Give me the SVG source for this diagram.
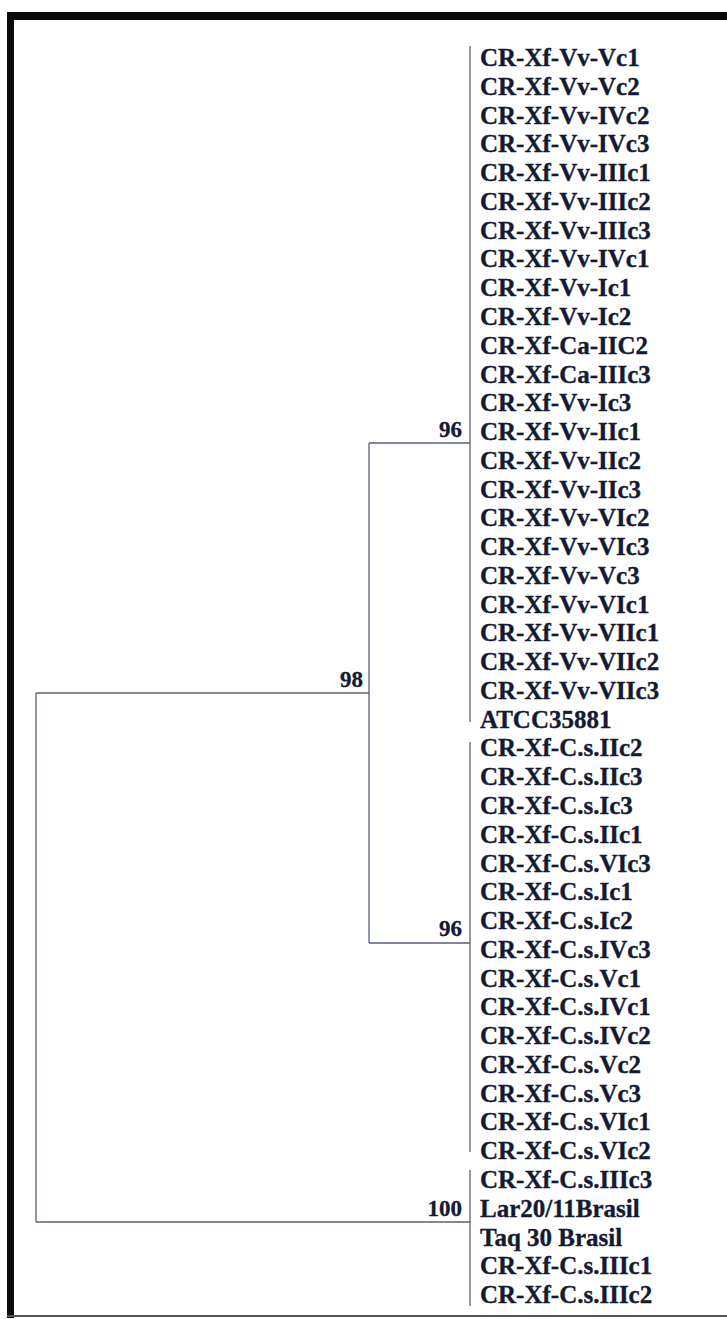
<svg xmlns="http://www.w3.org/2000/svg" width="727" height="1319" viewBox="0 0 727 1319">
<style>
.leaf{font-family:"Liberation Serif","Times New Roman",serif;font-weight:bold;font-size:25px;fill:#151a33;stroke:#151a33;stroke-width:0.35}
.bs{font-family:"Liberation Serif","Times New Roman",serif;font-weight:bold;font-size:23px;fill:#151a33;stroke:#151a33;stroke-width:0.3;text-anchor:end}
.br{stroke:#59607a;stroke-width:1.3;fill:none}
</style>
<rect width="727" height="1319" fill="#ffffff"/>
<g id="frame">
<rect x="7" y="12" width="720" height="8" fill="#0a0a0a"/>
<rect x="7" y="12" width="7" height="1306" fill="#0a0a0a"/>
<rect x="7" y="1315" width="720" height="2" fill="#555555"/>
</g>
<g id="connectors" class="br">
<path d="M36,693 V1222"/>
<path d="M36,693 H369"/>
<path d="M36,1222 H470"/>
<path d="M369,443 V943"/>
<path d="M369,443 H470"/>
<path d="M369,943 H470"/>
<path d="M470,46 V722"/>
<path d="M470,742 V1152"/>
<path d="M470,1170 V1306"/>
</g>
<g id="support">
<text class="bs" x="462" y="437">96</text>
<text class="bs" x="363" y="687">98</text>
<text class="bs" x="462" y="936">96</text>
<text class="bs" x="462" y="1216">100</text>
</g>
<g id="leaves">
<text class="leaf" x="480" y="66">CR-Xf-Vv-Vc1</text>
<text class="leaf" x="480" y="94.8">CR-Xf-Vv-Vc2</text>
<text class="leaf" x="480" y="123.5">CR-Xf-Vv-IVc2</text>
<text class="leaf" x="480" y="152.3">CR-Xf-Vv-IVc3</text>
<text class="leaf" x="480" y="181.1">CR-Xf-Vv-IIIc1</text>
<text class="leaf" x="480" y="209.8">CR-Xf-Vv-IIIc2</text>
<text class="leaf" x="480" y="238.6">CR-Xf-Vv-IIIc3</text>
<text class="leaf" x="480" y="267.4">CR-Xf-Vv-IVc1</text>
<text class="leaf" x="480" y="296.2">CR-Xf-Vv-Ic1</text>
<text class="leaf" x="480" y="324.9">CR-Xf-Vv-Ic2</text>
<text class="leaf" x="480" y="353.7">CR-Xf-Ca-IIC2</text>
<text class="leaf" x="480" y="382.5">CR-Xf-Ca-IIIc3</text>
<text class="leaf" x="480" y="411.2">CR-Xf-Vv-Ic3</text>
<text class="leaf" x="480" y="440">CR-Xf-Vv-IIc1</text>
<text class="leaf" x="480" y="468.8">CR-Xf-Vv-IIc2</text>
<text class="leaf" x="480" y="497.5">CR-Xf-Vv-IIc3</text>
<text class="leaf" x="480" y="526.3">CR-Xf-Vv-VIc2</text>
<text class="leaf" x="480" y="555.1">CR-Xf-Vv-VIc3</text>
<text class="leaf" x="480" y="583.8">CR-Xf-Vv-Vc3</text>
<text class="leaf" x="480" y="612.6">CR-Xf-Vv-VIc1</text>
<text class="leaf" x="480" y="641.4">CR-Xf-Vv-VIIc1</text>
<text class="leaf" x="480" y="670.1">CR-Xf-Vv-VIIc2</text>
<text class="leaf" x="480" y="698.9">CR-Xf-Vv-VIIc3</text>
<text class="leaf" x="480" y="727.7">ATCC35881</text>
<text class="leaf" x="480" y="756.4">CR-Xf-C.s.IIc2</text>
<text class="leaf" x="480" y="785.2">CR-Xf-C.s.IIc3</text>
<text class="leaf" x="480" y="814">CR-Xf-C.s.Ic3</text>
<text class="leaf" x="480" y="842.7">CR-Xf-C.s.IIc1</text>
<text class="leaf" x="480" y="871.5">CR-Xf-C.s.VIc3</text>
<text class="leaf" x="480" y="900.3">CR-Xf-C.s.Ic1</text>
<text class="leaf" x="480" y="929">CR-Xf-C.s.Ic2</text>
<text class="leaf" x="480" y="957.8">CR-Xf-C.s.IVc3</text>
<text class="leaf" x="480" y="986.6">CR-Xf-C.s.Vc1</text>
<text class="leaf" x="480" y="1015.3">CR-Xf-C.s.IVc1</text>
<text class="leaf" x="480" y="1044.1">CR-Xf-C.s.IVc2</text>
<text class="leaf" x="480" y="1072.9">CR-Xf-C.s.Vc2</text>
<text class="leaf" x="480" y="1101.6">CR-Xf-C.s.Vc3</text>
<text class="leaf" x="480" y="1130.4">CR-Xf-C.s.VIc1</text>
<text class="leaf" x="480" y="1159.2">CR-Xf-C.s.VIc2</text>
<text class="leaf" x="480" y="1187.9">CR-Xf-C.s.IIIc3</text>
<text class="leaf" x="480" y="1216.7">Lar20/11Brasil</text>
<text class="leaf" x="480" y="1245.5">Taq 30 Brasil</text>
<text class="leaf" x="480" y="1274.2">CR-Xf-C.s.IIIc1</text>
<text class="leaf" x="480" y="1303">CR-Xf-C.s.IIIc2</text>
</g>
</svg>
